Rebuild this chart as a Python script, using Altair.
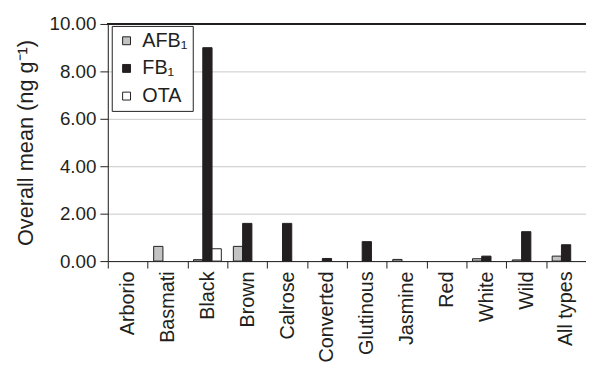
import altair as alt
import pandas as pd

categories = ["Arborio", "Basmati", "Black", "Brown", "Calrose", "Converted",
              "Glutinous", "Jasmine", "Red", "White", "Wild", "All types"]
series = ["AFB₁", "FB₁", "OTA"]
afb1 = [0, 0.62, 0.06, 0.62, 0, 0, 0, 0.07, 0, 0.10, 0.05, 0.21]
fb1 = [0, 0, 9.00, 1.59, 1.59, 0.11, 0.82, 0, 0, 0.21, 1.24, 0.69]
ota = [0, 0, 0.52, 0, 0, 0, 0, 0, 0, 0, 0, 0]
colors = ["#c3c3c3", "#231f20", "#ffffff"]
y_ticks = [0, 2, 4, 6, 8, 10]

rows = []
for name, vals in zip(series, [afb1, fb1, ota]):
    for c, v in zip(categories, vals):
        rows.append({"cat": c, "series": name, "value": v})
df = pd.DataFrame(rows)

FONT = "Liberation Sans"
INK = "#231f20"

bars = alt.Chart(df).transform_filter("datum.value > 0").mark_bar(
    stroke=INK, strokeWidth=1
).encode(
    x=alt.X("cat:N", sort=categories, title=None,
            scale=alt.Scale(domain=categories, paddingInner=0, paddingOuter=0),
            axis=alt.Axis(labelAngle=-90, tickBand="extent", tickSize=7,
                          labelPadding=3, labelFontSize=20, labelFont=FONT,
                          labelColor=INK, domainColor=INK, tickColor=INK,
                          grid=False)),
    xOffset=alt.XOffset("series:N", sort=series,
                        scale=alt.Scale(domain=series, paddingInner=0, paddingOuter=0.65)),
    y=alt.Y("value:Q", scale=alt.Scale(domain=[0, 10]),
            title="Overall mean (ng g⁻¹)",
            axis=alt.Axis(values=y_ticks, format=".2f", tickSize=8, labelPadding=4,
                          labelFontSize=19, labelFont=FONT, labelColor=INK,
                          titleFontSize=22, titleFont=FONT, titleColor=INK,
                          titleFontWeight="normal", titlePadding=12,
                          domainColor=INK, tickColor=INK,
                          grid=True, gridColor="#c8c8c8", gridWidth=1)),
    color=alt.Color("series:N", sort=series,
                    scale=alt.Scale(domain=series, range=colors),
                    legend=alt.Legend(orient="none", legendX=4, legendY=2, title=None,
                                      symbolType="square", symbolSize=64,
                                      symbolStrokeColor=INK, symbolStrokeWidth=1,
                                      labelFontSize=20, labelFont=FONT, labelColor=INK,
                                      rowPadding=8, padding=5, labelOffset=6,
                                      strokeColor=INK, fillColor="white")),
)

top_rule = alt.Chart(df).mark_rule(color=INK, strokeWidth=1).encode(
    y=alt.datum(10)
)

chart = alt.layer(bars, top_rule).properties(
    width=484, height=240,
    autosize=alt.AutoSizeParams(type="none"),
    padding={"left": 101, "top": 14, "right": 0, "bottom": 102},
).configure_view(stroke=None).configure(background="white")

chart.save("out.html", embed_options={"renderer": "svg", "actions": False})
